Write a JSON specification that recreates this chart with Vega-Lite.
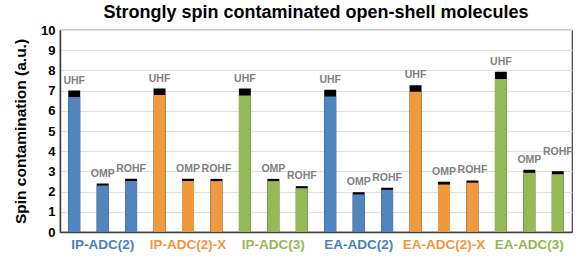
{
  "$schema": "https://vega.github.io/schema/vega-lite/v6.json",
  "width": 512,
  "height": 202,
  "autosize": "none",
  "padding": {"left": 60, "top": 30, "right": 9, "bottom": 28},
  "background": "white",
  "title": {
    "text": "Strongly spin contaminated open-shell molecules",
    "font": "Liberation Sans",
    "fontSize": 18,
    "fontWeight": "bold",
    "color": "#000000",
    "anchor": "middle",
    "offset": 2
  },
  "config": {
    "view": {"stroke": "#404040", "strokeWidth": 1.2},
    "font": "Liberation Sans"
  },
  "data": {
    "values": [
      {"key": "IP-ADC(2)|UHF", "group": "IP-ADC(2)", "method": "UHF", "base": 6.68, "total": 7.0},
      {"key": "IP-ADC(2)|OMP", "group": "IP-ADC(2)", "method": "OMP", "base": 2.3, "total": 2.4},
      {"key": "IP-ADC(2)|ROHF", "group": "IP-ADC(2)", "method": "ROHF", "base": 2.52, "total": 2.63},
      {"key": "IP-ADC(2)-X|UHF", "group": "IP-ADC(2)-X", "method": "UHF", "base": 6.78, "total": 7.1},
      {"key": "IP-ADC(2)-X|OMP", "group": "IP-ADC(2)-X", "method": "OMP", "base": 2.52, "total": 2.63},
      {"key": "IP-ADC(2)-X|ROHF", "group": "IP-ADC(2)-X", "method": "ROHF", "base": 2.52, "total": 2.63},
      {"key": "IP-ADC(3)|UHF", "group": "IP-ADC(3)", "method": "UHF", "base": 6.76, "total": 7.1},
      {"key": "IP-ADC(3)|OMP", "group": "IP-ADC(3)", "method": "OMP", "base": 2.52, "total": 2.63},
      {"key": "IP-ADC(3)|ROHF", "group": "IP-ADC(3)", "method": "ROHF", "base": 2.17, "total": 2.27},
      {"key": "EA-ADC(2)|UHF", "group": "EA-ADC(2)", "method": "UHF", "base": 6.71, "total": 7.04},
      {"key": "EA-ADC(2)|OMP", "group": "EA-ADC(2)", "method": "OMP", "base": 1.86, "total": 1.97},
      {"key": "EA-ADC(2)|ROHF", "group": "EA-ADC(2)", "method": "ROHF", "base": 2.09, "total": 2.19},
      {"key": "EA-ADC(2)-X|UHF", "group": "EA-ADC(2)-X", "method": "UHF", "base": 6.94, "total": 7.27},
      {"key": "EA-ADC(2)-X|OMP", "group": "EA-ADC(2)-X", "method": "OMP", "base": 2.35, "total": 2.49},
      {"key": "EA-ADC(2)-X|ROHF", "group": "EA-ADC(2)-X", "method": "ROHF", "base": 2.44, "total": 2.55},
      {"key": "EA-ADC(3)|UHF", "group": "EA-ADC(3)", "method": "UHF", "base": 7.57, "total": 7.93},
      {"key": "EA-ADC(3)|OMP", "group": "EA-ADC(3)", "method": "OMP", "base": 2.93, "total": 3.08},
      {"key": "EA-ADC(3)|ROHF", "group": "EA-ADC(3)", "method": "ROHF", "base": 2.86, "total": 3.01}
    ]
  },
  "encoding": {
    "x": {
      "field": "key",
      "type": "nominal",
      "sort": null,
      "scale": {"paddingInner": 0.58, "paddingOuter": 0.29},
      "axis": {
        "title": null,
        "ticks": false,
        "labelAngle": 0,
        "labelFont": "Liberation Sans",
        "labelFontSize": 13.5,
        "labelFontWeight": "bold",
        "labelPadding": 5,
        "labelExpr": "split(datum.value,'|')[1]=='OMP' ? split(datum.value,'|')[0] : ''",
        "labelColor": {
          "condition": [
            {"test": "indexof(datum.value,'-X|')>=0", "value": "#F0963F"},
            {"test": "indexof(datum.value,'(3)|')>=0", "value": "#93B852"}
          ],
          "value": "#4A80BE"
        },
        "labelOverlap": false,
        "labelBound": false,
        "domainColor": "#404040",
        "domainWidth": 1.5
      }
    }
  },
  "layer": [
    {
      "mark": {"type": "bar", "color": "#000000"},
      "encoding": {
        "y": {
          "field": "total",
          "type": "quantitative",
          "scale": {"domain": [0, 10]},
          "axis": {
            "title": "Spin contamination (a.u.)",
            "titleFont": "Liberation Sans",
            "titleFontSize": 15.5,
            "titleFontWeight": "bold",
            "titleColor": "#000000",
            "titlePadding": 12,
            "values": [0,1,2,3,4,5,6,7,8,9,10],
            "labelOverlap": false,
            "ticks": false,
            "labelFont": "Liberation Sans",
            "labelFontSize": 13,
            "labelFontWeight": "bold",
            "labelColor": "#000000",
            "labelPadding": 5,
            "gridColor": "#E0E0E0",
            "domainColor": "#404040",
            "domainWidth": 1.5
          }
        }
      }
    },
    {
      "mark": {"type": "bar"},
      "encoding": {
        "y": {
          "field": "base",
          "type": "quantitative",
          "axis": {
            "title": "Spin contamination (a.u.)",
            "titleFont": "Liberation Sans",
            "titleFontSize": 15.5,
            "titleFontWeight": "bold",
            "titleColor": "#000000",
            "titlePadding": 12,
            "values": [0,1,2,3,4,5,6,7,8,9,10],
            "labelOverlap": false,
            "ticks": false,
            "labelFont": "Liberation Sans",
            "labelFontSize": 13,
            "labelFontWeight": "bold",
            "labelColor": "#000000",
            "labelPadding": 5,
            "gridColor": "#E0E0E0",
            "domainColor": "#404040",
            "domainWidth": 1.5
          }
        },
        "color": {
          "field": "group",
          "type": "nominal",
          "legend": null,
          "scale": {
            "domain": ["IP-ADC(2)", "IP-ADC(2)-X", "IP-ADC(3)", "EA-ADC(2)", "EA-ADC(2)-X", "EA-ADC(3)"],
            "range": ["#5085C0", "#F0993F", "#94BA55", "#5085C0", "#F0993F", "#94BA55"]
          }
        }
      }
    },
    {
      "transform": [{"filter": "datum.key != 'EA-ADC(3)|ROHF'"}],
      "mark": {"type": "text", "dy": -10, "fontSize": 10.5, "fontWeight": "bold", "color": "#7F7F7F", "font": "Liberation Sans"},
      "encoding": {
        "y": {
          "field": "total",
          "type": "quantitative",
          "axis": {
            "title": "Spin contamination (a.u.)",
            "titleFont": "Liberation Sans",
            "titleFontSize": 15.5,
            "titleFontWeight": "bold",
            "titleColor": "#000000",
            "titlePadding": 12,
            "values": [0,1,2,3,4,5,6,7,8,9,10],
            "labelOverlap": false,
            "ticks": false,
            "labelFont": "Liberation Sans",
            "labelFontSize": 13,
            "labelFontWeight": "bold",
            "labelColor": "#000000",
            "labelPadding": 5,
            "gridColor": "#E0E0E0",
            "domainColor": "#404040",
            "domainWidth": 1.5
          }
        },
        "text": {"field": "method"}
      }
    },
    {
      "transform": [{"filter": "datum.key == 'EA-ADC(3)|ROHF'"}],
      "mark": {"type": "text", "dy": -19, "fontSize": 10.5, "fontWeight": "bold", "color": "#7F7F7F", "font": "Liberation Sans"},
      "encoding": {
        "y": {
          "field": "total",
          "type": "quantitative",
          "axis": {
            "title": "Spin contamination (a.u.)",
            "titleFont": "Liberation Sans",
            "titleFontSize": 15.5,
            "titleFontWeight": "bold",
            "titleColor": "#000000",
            "titlePadding": 12,
            "values": [0,1,2,3,4,5,6,7,8,9,10],
            "labelOverlap": false,
            "ticks": false,
            "labelFont": "Liberation Sans",
            "labelFontSize": 13,
            "labelFontWeight": "bold",
            "labelColor": "#000000",
            "labelPadding": 5,
            "gridColor": "#E0E0E0",
            "domainColor": "#404040",
            "domainWidth": 1.5
          }
        },
        "text": {"field": "method"}
      }
    }
  ]
}
